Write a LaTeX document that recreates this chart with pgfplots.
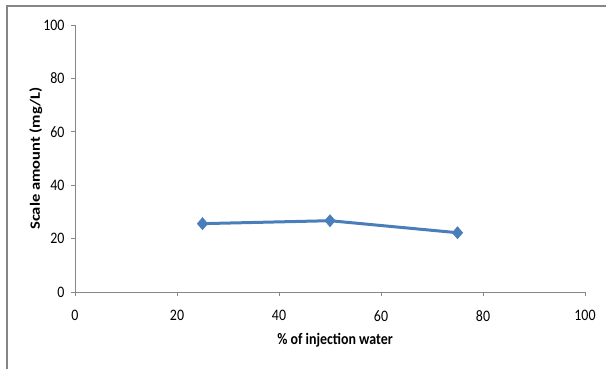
\documentclass[border=0pt]{standalone}
\usepackage{pgfplots}
\pgfplotsset{compat=1.18}
\usepackage{fontspec}
\setmainfont{Carlito}[FakeStretch=0.87]
\newfontfamily\plainfont{Carlito}
\definecolor{seriesblue}{RGB}{74,126,187}
\definecolor{axisgray}{RGB}{134,134,134}
\begin{document}
\begin{tikzpicture}[x=1pt,y=1pt]
\useasboundingbox (0,0) rectangle (606,369);
% outer frame (only top and left edges fall inside the page)
\draw[axisgray, line width=1.6pt] (7,-10) -- (7,363) -- (620,363);
\begin{axis}[
  at={(75pt,77pt)}, anchor=south west,
  scale only axis, width=510pt, height=267pt,
  xmin=0, xmax=100, ymin=0, ymax=100,
  xtick={0,20,...,100}, ytick={0,20,...,100},
  axis lines*=left,
  axis line style={draw=axisgray, line width=0.8pt},
  tick style={draw=axisgray, line width=0.8pt},
  tick align=outside, major tick length=4pt,
  /pgf/number format/assume math mode=true,
  tick label style={font=\fontsize{16}{18}\selectfont, text=black},
  xticklabel style={anchor=north, yshift=-11pt},
  yticklabel style={xshift=-3pt},
  xlabel={\textbf{\% of injection water}},
  ylabel={\scalebox{1}[0.86]{\plainfont\bfseries\fontsize{16.5}{18}\selectfont Scale amount (mg/L)}},
  label style={font=\fontsize{16}{18}\selectfont},
  xlabel style={at={(axis description cs:0.51,-0.18)}, anchor=center},
  ylabel style={at={(axis description cs:-0.077,0.5)}, anchor=center},
]
\addplot[seriesblue, line width=3pt, mark=diamond*, mark size=6pt,
         mark options={line width=0.6pt, fill=seriesblue, xscale=1.15}]
  coordinates {(25,25.6) (50,26.7) (75,22.2)};
\end{axis}
\end{tikzpicture}
\end{document}
